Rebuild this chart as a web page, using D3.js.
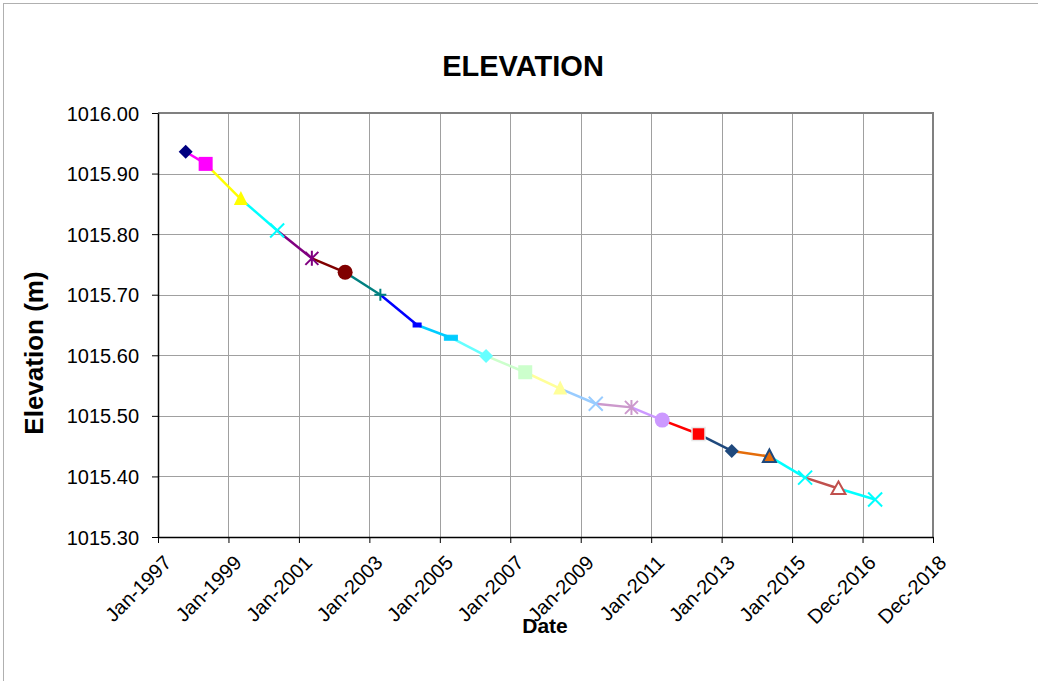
<!DOCTYPE html>
<html><head><meta charset="utf-8">
<script src="https://cdn.jsdelivr.net/npm/d3@7"></script>
<style>body{margin:0;background:#fff}svg{display:block}text{font-family:"Liberation Sans",Arial,sans-serif}</style>
</head><body>
<svg id="c" width="1038" height="681"></svg>
<script>
// Data
const dates = ["1997-10-15","1998-05-10","1999-05-10","2000-05-20","2001-05-15","2002-04-25","2003-04-25","2004-05-10","2005-04-25","2006-04-25","2007-06-05","2008-06-01","2009-06-05","2010-06-10","2011-04-25","2012-05-05","2013-04-15","2014-05-10","2015-05-15","2016-04-25","2017-05-10"];
const elevations = [1015.936,1015.916,1015.858,1015.806,1015.760,1015.737,1015.700,1015.650,1015.629,1015.599,1015.572,1015.545,1015.520,1015.514,1015.493,1015.470,1015.442,1015.433,1015.398,1015.380,1015.362];
const colors = ["#000080","#FF00FF","#FFFF00","#00FFFF","#800080","#800000","#008080","#0000FF","#00CCFF","#66FFFF","#CCFFCC","#FFFF99","#99CCFF","#CC99CC","#CC99FF","#FF0000","#1F497D","#E46C0A","#00FFFF","#C0504D","#00FFFF"];
const markers = ["diamond","square","triangle","x","asterisk","circle","plus","dashS","dashL","diamond","square","triangle","x","asterisk","circle","squareR","diamond","triangle2","x","triangleOpen","x"];
const xTickLabels = ["Jan-1997","Jan-1999","Jan-2001","Jan-2003","Jan-2005","Jan-2007","Jan-2009","Jan-2011","Jan-2013","Jan-2015","Dec-2016","Dec-2018"];
const yTicks = [1015.30,1015.40,1015.50,1015.60,1015.70,1015.80,1015.90,1016.00];

const svg = d3.select("#c");
const L=158, R=933, T=113, B=537;
const parse = d3.timeParse("%Y-%m-%d");
const x = d3.scaleTime().domain([parse("1997-01-01"), parse("2018-12-31")]).range([L,R]);
const y = d3.scaleLinear().domain([1015.30,1016.00]).range([B,T]);
const d0 = x.domain()[0].getTime(), d1 = x.domain()[1].getTime();
const xTickVals = xTickLabels.map((_,i)=> new Date(d0 + (d1-d0)*i/(xTickLabels.length-1)));

// outer chart border
svg.append("rect").attr("x",3.5).attr("y",3.5).attr("width",1040).attr("height",690).attr("fill","none").attr("stroke","#b0b0b0").attr("stroke-width",1);

// gridlines
const g = svg.append("g");
g.selectAll("line.vg").data(xTickVals.slice(1,-1)).join("line")
 .attr("x1",d=>Math.round(x(d))+0.5).attr("x2",d=>Math.round(x(d))+0.5).attr("y1",T).attr("y2",B)
 .attr("stroke","#a0a0a0").attr("stroke-width",1);
g.selectAll("line.hg").data(yTicks.slice(1,-1)).join("line")
 .attr("y1",d=>Math.round(y(d))+0.5).attr("y2",d=>Math.round(y(d))+0.5).attr("x1",L).attr("x2",R)
 .attr("stroke","#a0a0a0").attr("stroke-width",1);
// plot border top/right
svg.append("line").attr("x1",L).attr("x2",R+1).attr("y1",T).attr("y2",T).attr("stroke","#808080").attr("stroke-width",2);
svg.append("line").attr("x1",R).attr("x2",R).attr("y1",T).attr("y2",B).attr("stroke","#808080").attr("stroke-width",2);

// axes
const xAxis = d3.axisBottom(x).tickValues(xTickVals).tickFormat((d,i)=>xTickLabels[i]).tickSize(6).tickSizeOuter(0);
const gx = svg.append("g").attr("transform",`translate(0,${B})`).call(xAxis);
gx.select(".domain").attr("stroke","#000").attr("stroke-width",1.5);
gx.selectAll(".tick line").attr("stroke","#000");
gx.selectAll(".tick text").attr("font-size",20).attr("fill","#000")
 .attr("text-anchor","end").attr("dy",0).attr("y",0)
 .attr("transform","translate(14,27) rotate(-45)");
const yAxis = d3.axisLeft(y).tickValues(yTicks).tickFormat(d3.format(".2f")).tickSize(6).tickSizeOuter(0);
const gy = svg.append("g").attr("transform",`translate(${L},0)`).call(yAxis);
gy.select(".domain").attr("stroke","#000").attr("stroke-width",1.5);
gy.selectAll(".tick line").attr("stroke","#000");
gy.selectAll(".tick text").attr("font-size",20).attr("fill","#000").attr("x",-19).attr("dy","0.35em");

// lines: each segment into point i coloured with series i
const pts = dates.map((d,i)=>({x:x(parse(d)), y:y(elevations[i]), c:colors[i], m:markers[i]}));
const segs = pts.slice(1).map((p,i)=>({a:pts[i], b:p}));
svg.append("g").selectAll("line").data(segs).join("line")
 .attr("x1",d=>d.a.x).attr("y1",d=>d.a.y).attr("x2",d=>d.b.x).attr("y2",d=>d.b.y)
 .attr("stroke",d=>d.b.c).attr("stroke-width",2.5);

// markers
const mg = svg.append("g");
pts.forEach(p=>{
  const gg = mg.append("g").attr("transform",`translate(${p.x},${p.y})`);
  const s = 7;
  switch(p.m){
    case "diamond": gg.append("path").attr("d",`M0,${-s}L${s},0L0,${s}L${-s},0Z`).attr("fill",p.c); break;
    case "square": gg.append("rect").attr("x",-7).attr("y",-7).attr("width",14).attr("height",14).attr("fill",p.c); break;
    case "squareR": gg.append("rect").attr("x",-6.5).attr("y",-6.5).attr("width",13).attr("height",13).attr("fill",p.c).attr("stroke","#e8e8e8").attr("stroke-width",1.5); break;
    case "triangle": gg.append("path").attr("d",`M0,-8L7,6L-7,6Z`).attr("fill",p.c); break;
    case "triangle2": gg.append("path").attr("d",`M0,-7L6.5,5.5L-6.5,5.5Z`).attr("fill",p.c).attr("stroke","#1F497D").attr("stroke-width",2); break;
    case "triangleOpen": gg.append("path").attr("d",`M0,-7L7,5.5L-7,5.5Z`).attr("fill","#fff").attr("stroke",p.c).attr("stroke-width",2); break;
    case "x": gg.append("path").attr("d",`M-7,-7L7,7M7,-7L-7,7`).attr("stroke",p.c).attr("stroke-width",2); break;
    case "asterisk": gg.append("path").attr("d",`M-6.5,-6.5L6.5,6.5M6.5,-6.5L-6.5,6.5M0,-7.5L0,7.5`).attr("stroke",p.c).attr("stroke-width",2); break;
    case "plus": gg.append("path").attr("d",`M-6,0L6,0M0,-6L0,6`).attr("stroke",p.c).attr("stroke-width",2); break;
    case "circle": gg.append("circle").attr("r",7.5).attr("fill",p.c); break;
    case "dashS": gg.append("rect").attr("x",-4).attr("y",-2).attr("width",8).attr("height",4).attr("fill",p.c).attr("stroke",p.c).attr("stroke-width",1); break;
    case "dashL": gg.append("rect").attr("x",-6.5).attr("y",-2.5).attr("width",13).attr("height",5).attr("fill",p.c).attr("stroke",p.c).attr("stroke-width",1); break;
  }
});

// titles
svg.append("text").attr("x",523).attr("y",76).attr("text-anchor","middle").attr("font-size",29).attr("font-weight","bold").text("ELEVATION");
svg.append("text").attr("transform","translate(43,353) rotate(-90)").attr("text-anchor","middle").attr("font-size",26).attr("font-weight","bold").text("Elevation (m)");
svg.append("text").attr("x",545).attr("y",633).attr("text-anchor","middle").attr("font-size",21).attr("font-weight","bold").text("Date");
</script>
</body></html>
